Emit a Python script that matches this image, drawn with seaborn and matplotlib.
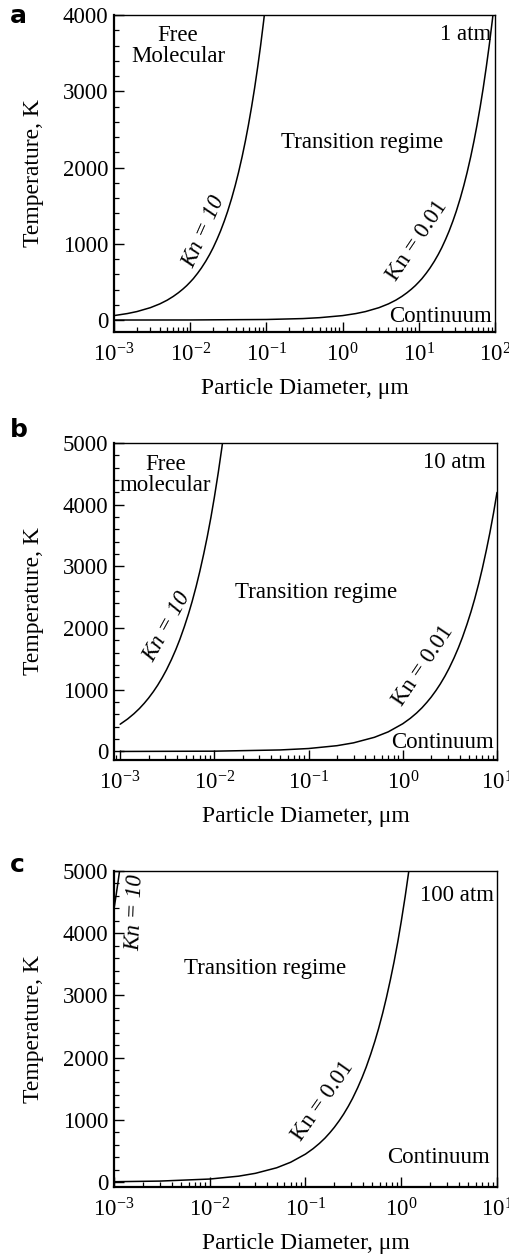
import matplotlib
matplotlib.use("Agg")
import matplotlib.pyplot as plt
import seaborn as sns
from matplotlib.ticker import LogLocator, MultipleLocator, NullFormatter, LogFormatterSciNotation

# ---------------- data ----------------
# Panel a: 1 atm
a_kn10_d = [0.001, 0.0015, 0.002, 0.003, 0.004, 0.005, 0.006, 0.007, 0.008, 0.009, 0.01,
            0.011, 0.0125, 0.014, 0.016, 0.018, 0.02, 0.0225, 0.025, 0.028, 0.031, 0.035,
            0.039, 0.043, 0.048, 0.053, 0.058, 0.064, 0.07, 0.077, 0.084, 0.092, 0.1]
a_kn10_T = [58, 85, 111, 162, 212, 261, 310, 358, 405, 451, 498,
            543, 613, 681, 771, 860, 948, 1059, 1167, 1297, 1425, 1596,
            1765, 1933, 2141, 2348, 2554, 2799, 3041, 3324, 3602, 3920, 4237]
a_kn001_d = [0.001, 0.01, 0.1, 0.3, 0.5, 1, 1.5, 2, 3, 4, 5, 6, 7, 8, 9, 10,
             11, 12.5, 14, 16, 18, 20, 22.5, 25, 28, 31, 35,
             39, 43, 48, 53, 58, 64, 70, 77, 84, 92, 100]
a_kn001_T = [0.1, 0.8, 7, 19, 31, 58, 85, 111, 162, 212, 261, 310, 358, 405, 451, 498,
             543, 613, 681, 771, 860, 948, 1059, 1167, 1297, 1425, 1596,
             1765, 1933, 2141, 2348, 2554, 2799, 3041, 3324, 3602, 3920, 4237]

# Panel b: 10 atm
b_kn10_d = [0.001, 0.0012, 0.0014, 0.0016, 0.0018, 0.002, 0.00225, 0.0025, 0.0028, 0.0031,
            0.0035, 0.0039, 0.0043, 0.0048, 0.0053, 0.0058, 0.0064, 0.007, 0.0077, 0.0084,
            0.0092, 0.010, 0.011, 0.012, 0.013]
b_kn10_T = [442, 527, 612, 696, 781, 865, 970, 1074, 1199, 1323,
            1489, 1653, 1817, 2023, 2226, 2429, 2673, 2917, 3200, 3479,
            3799, 4122, 4522, 4921, 5318]
b_kn001_d = [0.001, 0.01, 0.05, 0.1, 0.2, 0.3, 0.5, 0.7, 1, 1.2, 1.4, 1.6, 1.8, 2, 2.25,
             2.5, 2.8, 3.1, 3.5, 3.9, 4.3, 4.8, 5.3, 5.8, 6.4, 7, 7.7, 8.4, 9.2, 10]
b_kn001_T = [0.5, 5, 25, 48, 94, 140, 230, 318, 450, 537, 623, 709, 796, 881, 988,
             1094, 1221, 1348, 1517, 1684, 1851, 2061, 2267, 2474, 2723, 2971, 3260, 3544, 3870, 4199]

# Panel c: 100 atm
c_kn10_d = [0.001, 0.00105, 0.0011, 0.00115]
c_kn10_T = [4390, 4602, 4815, 5028]
c_kn001_d = [0.001, 0.003, 0.01, 0.02, 0.03, 0.05, 0.07, 0.1, 0.12, 0.14, 0.16, 0.18, 0.2,
             0.225, 0.25, 0.28, 0.31, 0.35, 0.39, 0.43, 0.48, 0.53, 0.58, 0.64, 0.7, 0.77,
             0.84, 0.92, 1.0, 1.1, 1.2, 1.3]
c_kn001_T = [5, 15, 48, 94, 140, 229, 318, 449, 536, 622, 707, 794, 879,
             986, 1091, 1218, 1344, 1513, 1680, 1846, 2056, 2262, 2468, 2716, 2964, 3252,
             3535, 3861, 4189, 4595, 5001, 5404]

panel_letters = ["a", "b", "c"]
pressures = ["1 atm", "10 atm", "100 atm"]

# ---------------- style ----------------
sns.set_style("ticks")
plt.rcParams["font.family"] = ["Liberation Serif", "DejaVu Serif"]
plt.rcParams["mathtext.fontset"] = "custom"
plt.rcParams["mathtext.rm"] = "Liberation Serif"
plt.rcParams["mathtext.it"] = "Liberation Serif:italic"
plt.rcParams["mathtext.default"] = "regular"
for k in ["text.color", "axes.labelcolor", "xtick.color", "ytick.color", "axes.edgecolor"]:
    plt.rcParams[k] = "black"

FS = 17
TFS = 16.5
AFS = 16.5

fig = plt.figure(figsize=(5.10, 12.57), dpi=100)
W, H = 510.0, 1257.0

def make_ax(l, r, t, b):
    return fig.add_axes([l / W, 1 - b / H, (r - l) / W, (b - t) / H])

axes = [make_ax(114, 495, 15, 332), make_ax(114, 497, 443, 760), make_ax(114, 497, 871, 1187)]
xlims = [(1e-3, 1e2), (8.6e-4, 10), (1e-3, 10)]
ylims = [(-157, 4000), (-138, 5000), (-80, 5000)]
ymaxes = [4000, 5000, 5000]
letter_baselines = [23, 437, 872]

series = [
    ((a_kn10_d, a_kn10_T), (a_kn001_d, a_kn001_T)),
    ((b_kn10_d, b_kn10_T), (b_kn001_d, b_kn001_T)),
    ((c_kn10_d, c_kn10_T), (c_kn001_d, c_kn001_T)),
]

for i, ax in enumerate(axes):
    for d, T in series[i]:
        sns.lineplot(x=d, y=T, ax=ax, color="black", lw=1.1, sort=False, estimator=None)
    ax.set_xscale("log")
    ax.set_xlim(*xlims[i])
    ax.set_ylim(*ylims[i])
    ax.set_yticks(range(0, ymaxes[i] + 1, 1000))
    ax.yaxis.set_minor_locator(MultipleLocator(200))
    ax.xaxis.set_major_locator(LogLocator(base=10, numticks=20))
    ax.xaxis.set_minor_locator(LogLocator(base=10, subs=range(2, 10), numticks=20))
    ax.xaxis.set_minor_formatter(NullFormatter())
    ax.xaxis.set_major_formatter(LogFormatterSciNotation())
    ax.tick_params(axis="both", which="major", direction="in", length=7, width=1.0,
                   labelsize=TFS, top=False, right=False, colors="black")
    ax.tick_params(axis="both", which="minor", direction="in", length=3.5, width=0.9,
                   top=False, right=False, colors="black")
    ax.tick_params(axis="x", which="major", pad=8)
    ax.tick_params(axis="y", which="major", pad=4)
    for s in ["left", "bottom"]:
        ax.spines[s].set_linewidth(1.6)
    for s in ["top", "right"]:
        ax.spines[s].set_linewidth(1.0)
    for s in ax.spines.values():
        s.set_color("black")
    ax.set_xlabel("Particle Diameter, μm", fontsize=FS, color="black")
    ax.set_ylabel("Temperature, K", fontsize=FS, color="black")
    ax.xaxis.set_label_coords(0.5, -0.145)
    ax.yaxis.set_label_coords(-0.184, 0.5)
    fig.text(10 / W, 1 - letter_baselines[i] / H, panel_letters[i], color="black",
             fontsize=18, fontweight="bold", family="DejaVu Sans", ha="left", va="baseline")

# ---------------- annotations ----------------
kw = dict(fontsize=AFS, color="black", va="center")
ax = axes[0]
ax.text(0.0069, 3590, "Free\nMolecular", ha="center", linespacing=1.0, **kw)
ax.text(88, 3750, pressures[0], ha="right", **kw)
ax.text(1.78, 2330, "Transition regime", ha="center", **kw)
ax.text(0.0153, 1160, "Kn = 10", ha="center", rotation=66, style="italic", **kw)
ax.text(9.4, 1040, "Kn = 0.01", ha="center", rotation=56, **kw)
ax.text(90, 40, "Continuum", ha="right", **kw)

ax = axes[1]
ax.text(0.003, 4480, "Free\nmolecular", ha="center", linespacing=1.0, **kw)
ax.text(7.6, 4680, pressures[1], ha="right", **kw)
ax.text(0.119, 2570, "Transition regime", ha="center", **kw)
ax.text(0.00316, 2018, "Kn = 10", ha="center", rotation=61, style="italic", **kw)
ax.text(1.63, 1386, "Kn = 0.01", ha="center", rotation=56, **kw)
ax.text(9.3, 138, "Continuum", ha="right", **kw)

ax = axes[2]
ax.text(0.00166, 4325, "Kn = 10", ha="center", rotation=88, style="italic", **kw)
ax.text(9.2, 4600, pressures[2], ha="right", **kw)
ax.text(0.0379, 3440, "Transition regime", ha="center", **kw)
ax.text(0.151, 1302, "Kn = 0.01", ha="center", rotation=55, **kw)
ax.text(8.4, 400, "Continuum", ha="right", **kw)

fig.savefig("out.png", dpi=100)
